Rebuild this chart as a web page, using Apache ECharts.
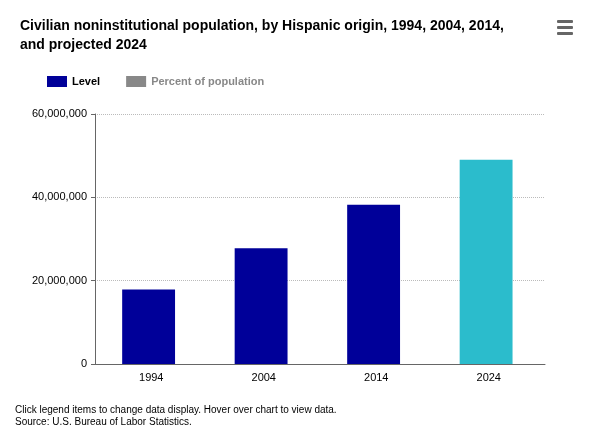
<!DOCTYPE html>
<html><head><meta charset="utf-8">
<script src="https://cdn.jsdelivr.net/npm/echarts@6/dist/echarts.min.js"></script>
<style>body{margin:0}#c{width:591px;height:440px}</style></head>
<body><div id="c"></div>
<script>
// data
const years = ['1994', '2004', '2014', '2024']
const level = [17.9e6, 27.8e6, 38.2e6, 49.0e6]
const barColors = ['#000099', '#000099', '#000099', '#2bbccc']

const chart = echarts.init(document.getElementById('c'))
chart.setOption({
  animation: false,
  textStyle: { fontFamily: 'Liberation Sans, Arial, sans-serif' },
  title: {
    text: 'Civilian noninstitutional population, by Hispanic origin, 1994, 2004, 2014,\nand projected 2024',
    left: 15, top: 12,
    textStyle: { fontSize: 14, fontWeight: 'bold', color: '#000', lineHeight: 19, fontFamily: 'Liberation Sans, Arial, sans-serif' }
  },
  graphic: [
    { type: 'group', right: 18, top: 20, children: [0, 6, 12].map(y => ({
      type: 'rect', shape: { x: 0, y: y, width: 16, height: 3, r: 1 }, style: { fill: '#666' } })) },
    { type: 'text', left: 15, top: 404, style: {
      text: 'Click legend items to change data display. Hover over chart to view data.\nSource: U.S. Bureau of Labor Statistics.',
      fontSize: 10, lineHeight: 12, fill: '#000', fontFamily: 'Liberation Sans, Arial, sans-serif' } }
  ],
  legend: {
    left: 42, top: 71, itemWidth: 20, itemHeight: 11, itemGap: 26, icon: 'rect',
    data: [
      { name: 'Level', itemStyle: { color: '#000099' } },
      { name: 'Percent of population', itemStyle: { color: '#888' }, textStyle: { color: '#888' } }
    ],
    textStyle: { fontSize: 11, fontWeight: 'bold', color: '#000' }
  },
  grid: { left: 95, right: 46, top: 114, bottom: 76 },
  xAxis: {
    type: 'category', data: years,
    axisLine: { lineStyle: { color: '#666' } },
    axisTick: { lineStyle: { color: '#666' } },
    axisLabel: { color: '#000', fontSize: 11 }
  },
  yAxis: {
    type: 'value', min: 0, max: 60000000, interval: 20000000,
    axisLine: { show: true, lineStyle: { color: '#666' } },
    axisTick: { show: true, length: 4, lineStyle: { color: '#666' } },
    axisLabel: { color: '#000', fontSize: 11, formatter: v => v.toLocaleString('en-US') },
    splitLine: { lineStyle: { type: 'dotted', color: '#bbb' } }
  },
  series: [
    { name: 'Level', type: 'bar', barWidth: '47%',
      data: level.map((v, i) => ({ value: v, itemStyle: { color: barColors[i] } })) },
    { name: 'Percent of population', type: 'bar', data: [] }
  ]
})
</script></body></html>
